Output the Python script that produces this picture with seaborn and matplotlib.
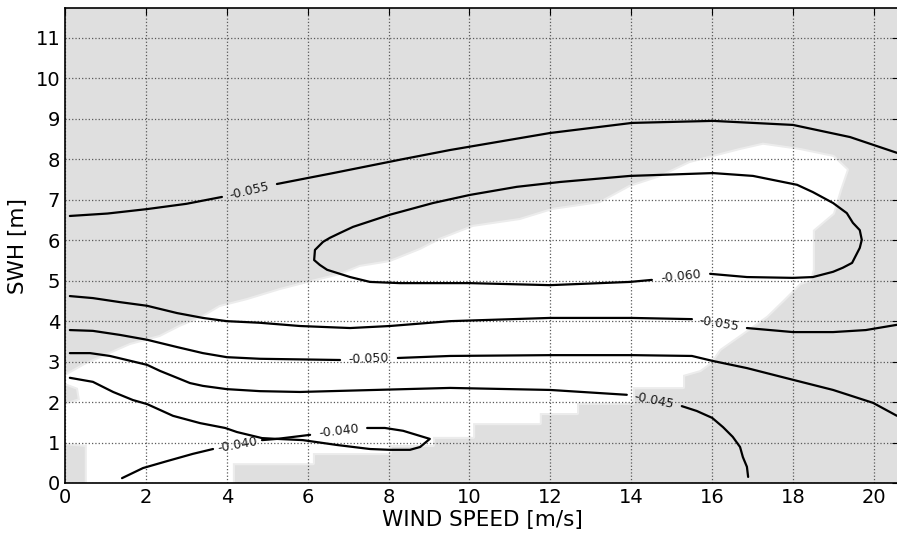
import numpy as np
import matplotlib
matplotlib.use("Agg")
import matplotlib.pyplot as plt
import seaborn as sns

# contour lines, split where the inline label sits
# (x = wind speed [m/s], y = SWH [m])
wind_055_top_a = [0.12, 1.05, 2.03, 3.0, 3.88]
swh_055_top_a = [6.60, 6.66, 6.77, 6.90, 7.07]
wind_055_top_b = [5.24, 6.63, 8.28, 9.52, 11.99, 14.02, 16.02, 18.0, 19.41, 20.57]
swh_055_top_b = [7.39, 7.66, 7.99, 8.23, 8.65, 8.90, 8.95, 8.85, 8.55, 8.16]

wind_060 = [14.51, 13.97, 11.99, 10.01, 8.28, 7.54, 7.05, 6.48, 6.30, 6.16, 6.18, 6.23,
            6.38, 6.55, 6.80, 7.12, 8.03, 9.10, 10.01, 11.17, 12.24, 13.97, 16.02,
            17.01, 18.10, 18.49, 18.99, 19.33, 19.48, 19.65, 19.70, 19.65, 19.46,
            19.23, 18.99, 18.49, 18.0, 16.86, 15.95]
swh_060 = [5.02, 4.97, 4.89, 4.94, 4.94, 4.97, 5.09, 5.27, 5.39, 5.51, 5.76, 5.81,
           5.96, 6.06, 6.18, 6.33, 6.63, 6.92, 7.12, 7.32, 7.44, 7.59, 7.66,
           7.59, 7.37, 7.19, 6.92, 6.67, 6.43, 6.25, 6.01, 5.81, 5.44,
           5.32, 5.22, 5.09, 5.07, 5.09, 5.17]

wind_055_low_a = [0.12, 0.69, 1.36, 2.03, 2.77, 3.41, 4.00, 4.82, 5.81, 7.05, 8.03,
                  9.52, 11.99, 14.02, 15.50]
swh_055_low_a = [4.62, 4.57, 4.47, 4.38, 4.20, 4.08, 4.00, 3.96, 3.88, 3.83, 3.88,
                 4.00, 4.08, 4.08, 4.05]
wind_055_low_b = [16.86, 18.0, 18.99, 19.8, 20.57]
swh_055_low_b = [3.83, 3.73, 3.73, 3.78, 3.91]

wind_050_a = [0.12, 0.69, 1.36, 2.03, 2.77, 3.41, 4.00, 4.82, 6.80]
swh_050_a = [3.78, 3.76, 3.66, 3.54, 3.36, 3.21, 3.11, 3.07, 3.04]
wind_050_b = [8.23, 9.52, 11.99, 14.04, 15.50, 16.0, 16.86, 18.0, 18.99, 19.98, 20.57]
swh_050_b = [3.09, 3.14, 3.16, 3.16, 3.14, 3.02, 2.84, 2.55, 2.30, 1.98, 1.66]

wind_045_a = [0.12, 0.62, 1.11, 1.53, 2.03, 2.35, 2.77, 3.09, 3.41, 4.00, 4.82, 5.81,
              9.52, 11.99, 13.89]
swh_045_a = [3.21, 3.21, 3.14, 3.04, 2.92, 2.77, 2.60, 2.47, 2.40, 2.32, 2.27, 2.25,
             2.35, 2.30, 2.18]
wind_045_b = [15.25, 15.62, 16.0, 16.27, 16.51, 16.69, 16.76, 16.86, 16.89]
swh_045_b = [1.90, 1.78, 1.61, 1.38, 1.14, 0.89, 0.64, 0.40, 0.15]

wind_040_a = [0.12, 0.69, 1.19, 1.68, 2.03, 2.67, 3.34, 3.96, 4.25, 4.87, 5.24]
swh_040_a = [2.60, 2.50, 2.25, 2.05, 1.95, 1.66, 1.48, 1.36, 1.26, 1.11, 1.09]
wind_040_b = [1.41, 1.93, 2.52, 3.16, 3.66]
swh_040_b = [0.12, 0.37, 0.54, 0.72, 0.84]
wind_040_c = [4.87, 5.24, 6.06]
swh_040_c = [1.06, 1.09, 1.19]
wind_040_d = [7.47, 7.91, 8.36, 9.02, 8.78, 8.53, 8.03, 7.54, 6.72, 5.88, 5.24]
swh_040_d = [1.36, 1.36, 1.29, 1.09, 0.89, 0.82, 0.82, 0.84, 0.94, 1.06, 1.09]

# label text, then the two points bounding the gap it sits in
labelled = [
    ("-0.055", (wind_055_top_a[-1], swh_055_top_a[-1]), (wind_055_top_b[0], swh_055_top_b[0])),
    ("-0.060", (wind_060[0], swh_060[0]), (wind_060[-1], swh_060[-1])),
    ("-0.055", (wind_055_low_a[-1], swh_055_low_a[-1]), (wind_055_low_b[0], swh_055_low_b[0])),
    ("-0.050", (wind_050_a[-1], swh_050_a[-1]), (wind_050_b[0], swh_050_b[0])),
    ("-0.045", (wind_045_a[-1], swh_045_a[-1]), (wind_045_b[0], swh_045_b[0])),
    ("-0.040", (wind_040_b[-1], swh_040_b[-1]), (wind_040_c[0], swh_040_c[0])),
    ("-0.040", (wind_040_c[-1], swh_040_c[-1]), (wind_040_d[0], swh_040_d[0])),
]
pieces = [
    (wind_055_top_a, swh_055_top_a), (wind_055_top_b, swh_055_top_b),
    (wind_060, swh_060),
    (wind_055_low_a, swh_055_low_a), (wind_055_low_b, swh_055_low_b),
    (wind_050_a, swh_050_a), (wind_050_b, swh_050_b),
    (wind_045_a, swh_045_a), (wind_045_b, swh_045_b),
    (wind_040_a, swh_040_a), (wind_040_b, swh_040_b),
    (wind_040_c, swh_040_c), (wind_040_d, swh_040_d),
]

# outline of the region that has data (white), the rest is masked grey
mask_wind = [0.54, 4.15, 4.15, 6.13, 6.13, 8.03, 8.03, 9.10, 9.10, 10.09, 10.09, 11.74,
             11.74, 12.66, 12.66, 14.04, 14.04, 15.28, 15.28, 15.70, 15.95, 16.19, 16.76,
             17.35, 17.75, 18.17, 18.42, 18.49, 18.49, 18.99, 19.16, 19.33, 18.99, 18.17,
             17.26, 16.69, 15.45, 14.71, 13.97, 13.23, 12.06, 11.25, 10.09, 9.27, 8.78,
             8.03, 7.29, 6.80, 5.98, 5.32, 4.50, 3.83, 3.41, 2.84, 2.35, 1.61, 1.04, 0.49,
             0.05, 0.0, 0.0, 0.32, 0.37, 0.0, 0.0, 0.54]
mask_swh = [0.0, 0.0, 0.49, 0.49, 0.74, 0.74, 0.94, 0.94, 1.14, 1.14, 1.48, 1.48,
            1.73, 1.73, 1.98, 1.98, 2.37, 2.37, 2.67, 2.79, 2.97, 3.31, 3.71,
            4.13, 4.52, 4.94, 5.02, 5.27, 6.25, 6.67, 7.24, 7.74, 8.06, 8.23,
            8.36, 8.23, 7.91, 7.56, 7.32, 6.92, 6.75, 6.50, 6.33, 6.01, 5.76,
            5.46, 5.34, 5.14, 4.94, 4.77, 4.52, 4.35, 4.10, 3.86, 3.61, 3.41, 3.16, 2.92,
            2.67, 2.67, 2.47, 2.35, 2.05, 1.93, 0.99, 0.94]

x_ticks = list(range(0, 21, 2))
y_ticks = list(range(0, 12))

sns.set_style("white")
plt.rcParams['font.family'] = ['DejaVu Sans']

fig = plt.figure(figsize=(8.97, 5.36), dpi=100)
ax = fig.add_axes([65 / 897, 53 / 536, 834 / 897, 475 / 536])
ax.set_facecolor('#dfdfdf')
# soft edge first, then the white region itself
ax.fill(mask_wind, mask_swh, facecolor='none', edgecolor='#ececec', lw=3,
        joinstyle='round', zorder=0.25)
ax.fill(mask_wind, mask_swh, color='white', lw=0, zorder=0.3)

for xs, ys in pieces:
    sns.lineplot(x=xs, y=ys, sort=False, estimator=None, color='black',
                 linewidth=1.6, ax=ax, zorder=3)

ax.set_xlim(0, 20.62)
ax.set_ylim(0, 11.74)
ax.set_xticks(x_ticks)
ax.set_yticks(y_ticks)
ax.set_axisbelow(True)
ax.grid(True, color='0.35', linestyle=':', linewidth=0.9)
ax.tick_params(direction='in', top=True, right=True, length=5, labelsize=14,
               colors='black', labelcolor='black')
for s in ax.spines.values():
    s.set_color('black')
    s.set_linewidth(1.2)
ax.set_xlabel('WIND SPEED [m/s]', fontsize=15.5, labelpad=2, color='black')
ax.set_ylabel('SWH [m]', fontsize=15.5, labelpad=5, color='black')

# inline contour labels placed in the gap between the two pieces
for text, p1, p2 in labelled:
    p1 = np.array(p1)
    p2 = np.array(p2)
    d1 = ax.transData.transform(p1)
    d2 = ax.transData.transform(p2)
    ang = np.degrees(np.arctan2(d2[1] - d1[1], d2[0] - d1[0]))
    if ang > 90:
        ang -= 180
    elif ang < -90:
        ang += 180
    mid = (p1 + p2) / 2
    ax.text(mid[0], mid[1], text, rotation=ang, rotation_mode='anchor',
            ha='center', va='center', fontsize=9, color='#1a1a1a', zorder=4)

fig.savefig('out.png', dpi=100)
